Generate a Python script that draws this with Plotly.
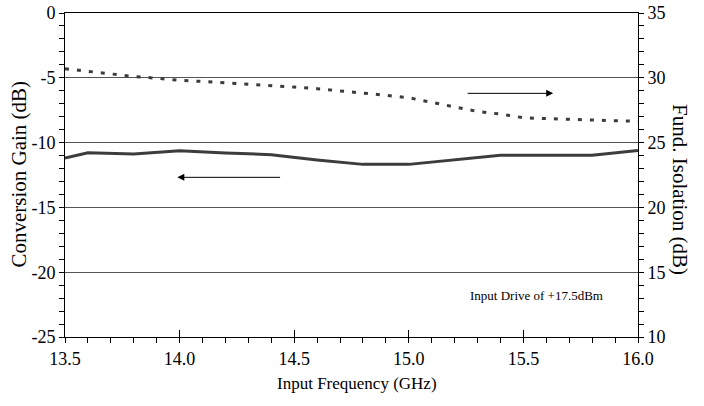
import plotly.graph_objects as go

# Conversion gain (left axis, dB)
gain_freq = [13.5, 13.6, 13.8, 14.0, 14.2, 14.4, 14.6, 14.8, 15.0, 15.4, 15.8, 16.0]
gain_db = [-11.2, -10.78, -10.88, -10.62, -10.8, -10.93, -11.34, -11.68, -11.68, -10.98, -10.98, -10.6]

# Fundamental isolation (right axis, dB)
iso_freq = [13.5, 13.6, 13.7, 13.8, 13.9, 14.0, 14.1, 14.2, 14.3, 14.4, 14.5, 14.6, 14.7,
            14.8, 14.9, 15.0, 15.1, 15.2, 15.3, 15.4, 15.5, 15.6, 15.7, 15.8, 15.9, 16.0]
iso_db = [30.7, 30.5, 30.32, 30.1, 29.97, 29.8, 29.72, 29.62, 29.53, 29.4, 29.29, 29.16, 29.0,
          28.8, 28.65, 28.46, 28.1, 27.75, 27.4, 27.2, 26.92, 26.85, 26.8, 26.75, 26.67, 26.64]

x_ticks = [13.5, 14.0, 14.5, 15.0, 15.5, 16.0]
left_ticks = [0, -5, -10, -15, -20, -25]
right_ticks = [35, 30, 25, 20, 15, 10]

FONT = "'Liberation Serif', 'Times New Roman', Times, serif"
LINE = "#3c3c3c"

fig = go.Figure()
fig.add_trace(go.Scatter(x=gain_freq, y=gain_db, mode="lines",
                         line=dict(color=LINE, width=3), yaxis="y", xaxis="x",
                         showlegend=False))
fig.add_trace(go.Scatter(x=iso_freq, y=iso_db, mode="lines",
                         line=dict(color=LINE, width=3, dash="4px,8px"), yaxis="y2", xaxis="x",
                         showlegend=False))
# helper trace for the inside major-tick axis
fig.add_trace(go.Scatter(x=[x_ticks[0]], y=[left_ticks[0]], mode="lines", xaxis="x2", yaxis="y",
                         showlegend=False, hoverinfo="skip", line=dict(width=0)))

fig.update_layout(
    width=704, height=406,
    margin=dict(l=65, r=66, t=13, b=69, autoexpand=False),
    paper_bgcolor="white", plot_bgcolor="white",
    font=dict(family=FONT, color="black", size=18),
    xaxis=dict(range=[13.5, 16.0], tickvals=x_ticks, ticktext=[f"{v:.1f}" for v in x_ticks],
               showgrid=False, zeroline=False, showline=True, linecolor="black", linewidth=1,
               mirror=True, ticks="outside", ticklen=5, tickcolor="black", tickwidth=1,
               minor=dict(dtick=0.1, ticks="outside", ticklen=5, tickcolor="black", tickwidth=1),
               tickfont=dict(family=FONT, size=18), automargin=False),
    xaxis2=dict(range=[13.5, 16.0], overlaying="x", tickvals=x_ticks, showticklabels=False,
                ticks="inside", ticklen=7, tickcolor="black", tickwidth=1, showgrid=False,
                zeroline=False, showline=False, anchor="y", side="bottom", automargin=False),
    yaxis=dict(range=[-25, 0], tickvals=left_ticks, ticktext=[str(v) for v in left_ticks],
               showgrid=True, gridcolor="#555555",
               gridwidth=1, zeroline=False, showline=True, linecolor="black", linewidth=1,
               ticks="outside", ticklen=5, tickcolor="black",
               minor=dict(dtick=1, ticks="outside", ticklen=5, tickcolor="black"),
               tickfont=dict(family=FONT, size=18), automargin=False),
    yaxis2=dict(range=[10, 35], tickvals=right_ticks, ticktext=[str(v) for v in right_ticks],
                overlaying="y", side="right",
                showgrid=False, zeroline=False, showline=True, linecolor="black", linewidth=1,
                ticks="outside", ticklen=5, tickcolor="black",
                minor=dict(dtick=1, ticks="outside", ticklen=5, tickcolor="black"),
                tickfont=dict(family=FONT, size=18), automargin=False),
)

annotations = [
    dict(text="Conversion Gain (dB)", xref="paper", yref="paper", x=-0.081, y=0.503,
         textangle=-90, showarrow=False, font=dict(family=FONT, size=21),
         xanchor="center", yanchor="middle"),
    dict(text="Fund. Isolation (dB)", xref="paper", yref="paper", x=1.073, y=0.454,
         textangle=90, showarrow=False, font=dict(family=FONT, size=21),
         xanchor="center", yanchor="middle"),
    dict(text="Input Frequency (GHz)", xref="paper", yref="paper", x=0.51, y=-0.142,
         showarrow=False, font=dict(family=FONT, size=17),
         xanchor="center", yanchor="middle"),
    dict(text="Input Drive of +17.5dBm", xref="x", yref="y", x=15.555, y=-21.76,
         showarrow=False, font=dict(family=FONT, size=13),
         xanchor="center", yanchor="middle"),
    dict(text="", xref="x", yref="y", x=13.99, y=-12.68, axref="x", ayref="y",
         ax=14.445, ay=-12.68, showarrow=True, arrowhead=2, arrowsize=1.4,
         arrowwidth=1, arrowcolor="black"),
    dict(text="", xref="x", yref="y2", x=15.63, y=28.8, axref="x", ayref="y2",
         ax=15.25, ay=28.8, showarrow=True, arrowhead=2, arrowsize=1.4,
         arrowwidth=1, arrowcolor="black"),
]
fig.update_layout(annotations=annotations)

fig.write_html("out.html", config={"displayModeBar": False},
               post_script="document.body.style.margin='0px';document.body.style.overflow='hidden';")
